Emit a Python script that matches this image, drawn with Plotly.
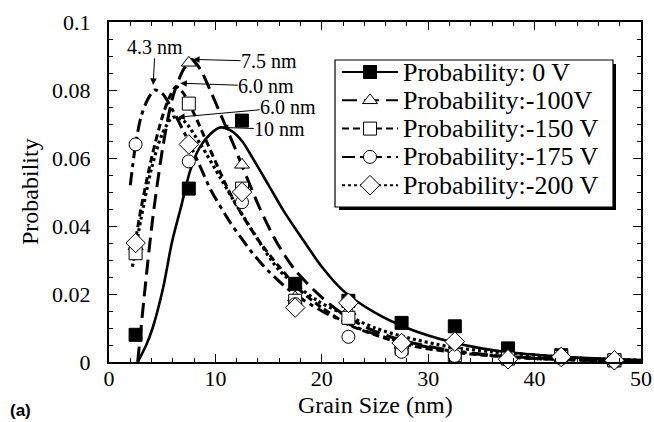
import plotly.graph_objects as go

# ---------------- data ----------------
grain_x = [2.5, 7.5, 12.5, 17.5, 22.5, 27.5, 32.5, 37.5, 42.5, 47.5]

p_0v   = [0.008, 0.051, 0.071, 0.023, 0.018, 0.0115, 0.0105, 0.004, 0.002, 0.0005]
p_100v = [0.034, 0.088, 0.058, 0.019, 0.015, 0.005, 0.004, 0.001, 0.0015, 0.0003]
p_150v = [0.032, 0.076, 0.051, 0.018, 0.013, 0.004, 0.002, 0.001, 0.0015, 0.0005]
p_175v = [0.064, 0.059, 0.047, 0.017, 0.0074, 0.003, 0.0018, 0.0005, 0.001, 0.0002]
p_200v = [0.035, 0.064, 0.050, 0.016, 0.0174, 0.0056, 0.006, 0.0008, 0.0015, 0.0005]

fit_0v_x = [2.7, 3.5, 4.1, 5.1, 5.9, 6.8, 7.6, 8.5, 9.5, 10.5, 11.5, 12.5, 13.5, 15, 16.5, 18, 20, 22, 25, 28, 32, 35, 38, 44, 50]
fit_0v_y = [0.0, 0.005, 0.010, 0.022, 0.035, 0.046, 0.056, 0.063, 0.067, 0.069, 0.068, 0.065, 0.060, 0.052, 0.044, 0.037, 0.028, 0.021, 0.0145, 0.010, 0.006, 0.004, 0.0027, 0.0013, 0.0006]

fit_100v_x = [2.7, 3.3, 4.1, 5.1, 6.0, 7.0, 7.8, 8.6, 9.5, 10.6, 11.7, 12.6, 14.2, 15.8, 17.5, 20, 22.5, 25, 28, 32, 36, 40, 45, 50]
fit_100v_y = [0.0, 0.019, 0.042, 0.064, 0.078, 0.086, 0.089, 0.086, 0.080, 0.072, 0.064, 0.057, 0.045, 0.035, 0.027, 0.019, 0.013, 0.009, 0.006, 0.0035, 0.002, 0.0012, 0.0006, 0.0003]

fit_150v_x = [2.2, 3.0, 4.0, 5.0, 5.7, 6.3, 7.0, 8.0, 9.0, 10.0, 11.0, 12.0, 14.0, 16.0, 18.0, 20.0, 22.5, 25, 28, 32, 36, 40, 45, 50]
fit_150v_y = [0.030, 0.045, 0.060, 0.072, 0.078, 0.081, 0.079, 0.073, 0.066, 0.059, 0.052, 0.046, 0.036, 0.028, 0.021, 0.016, 0.011, 0.008, 0.005, 0.003, 0.0018, 0.001, 0.0005, 0.0002]

fit_175v_x = [2.0, 2.5, 3.0, 3.6, 4.3, 5.0, 6.0, 7.3, 8.5, 9.5, 11.4, 12.3, 13.5, 14.9, 17, 20, 23.4, 25, 27.4, 31, 35, 40, 45, 50]
fit_175v_y = [0.052, 0.064, 0.072, 0.077, 0.080, 0.079, 0.074, 0.066, 0.058, 0.051, 0.041, 0.037, 0.032, 0.027, 0.021, 0.015, 0.0100, 0.0082, 0.006, 0.0038, 0.0022, 0.0010, 0.0005, 0.0002]

fit_200v_x = [2.2, 3.0, 4.0, 5.0, 6.0, 7.0, 8.6, 10.5, 12.0, 13.6, 16.0, 19.6, 22.5, 25, 28, 32, 36, 40, 45, 50]
fit_200v_y = [0.028, 0.042, 0.057, 0.067, 0.072, 0.071, 0.064, 0.054, 0.046, 0.038, 0.027, 0.018, 0.0135, 0.0100, 0.0072, 0.0045, 0.003, 0.002, 0.001, 0.0005]

series_names = ["Probability: 0 V", "Probability:-100V", "Probability:-150 V",
                "Probability:-175 V", "Probability:-200 V"]

peak_labels = ["4.3 nm", "7.5 nm", "6.0 nm", "6.0 nm", "10 nm"]
peak_x = [4.15, 7.9, 6.7, 6.5, 10.6]
peak_y = [0.0815, 0.0890, 0.0820, 0.0720, 0.0690]

x_tick_vals = [0, 10, 20, 30, 40, 50]
y_tick_vals = [0, 0.02, 0.04, 0.06, 0.08, 0.1]
y_tick_text = ["0", "0.02", "0.04", "0.06", "0.08", "0.1"]

x_title = "Grain Size (nm)"
y_title = "Probability"
panel_tag = "<b>(a)</b>"

# ---------------- styles ----------------
SERIF = "Liberation Serif"
W, H = 654, 422
ML, MR, MT, MB = 109, 13, 22, 60

styles = [
    dict(dash="solid", symbol="square", fill="black", width=2.6),
    dict(dash="15px,7px", symbol="triangle-up", fill="white", width=3),
    dict(dash="7px,4px", symbol="square", fill="white", width=3),
    dict(dash="13px,5px,4px,5px", symbol="circle", fill="white", width=3),
    dict(dash="3px,3px", symbol="diamond", fill="white", width=3.2),
]

fits = [(fit_0v_x, fit_0v_y), (fit_100v_x, fit_100v_y), (fit_150v_x, fit_150v_y),
        (fit_175v_x, fit_175v_y), (fit_200v_x, fit_200v_y)]
points = [p_0v, p_100v, p_150v, p_175v, p_200v]


def msize(sym):
    return 15 if sym == "diamond" else 13


fig = go.Figure()

for (fx, fy), st in zip(fits, styles):
    fig.add_trace(go.Scatter(x=fx, y=fy, mode="lines",
                             line=dict(color="black", width=st["width"], dash=st["dash"],
                                       shape="spline", smoothing=0.8),
                             showlegend=False, hoverinfo="skip"))

for pts, st, name in zip(points, styles, series_names):
    fig.add_trace(go.Scatter(x=grain_x, y=pts, mode="markers", name=name,
                             marker=dict(symbol=st["symbol"], size=msize(st["symbol"]),
                                         color=st["fill"], line=dict(color="black", width=1)),
                             showlegend=False, cliponaxis=False))

# ---------------- hand-made legend (pixel based overlay axes) ----------------
LEG_X0, LEG_X1, LEG_Y0, LEG_Y1 = 335, 613, 60, 207
ROW0, ROW_STEP = 72, 28.3
SAMPLE_X0, SAMPLE_X1, TEXT_X = 342, 398, 401

for i, (st, name) in enumerate(zip(styles, series_names)):
    ry = ROW0 + i * ROW_STEP
    fig.add_trace(go.Scatter(x=[SAMPLE_X0, SAMPLE_X1], y=[ry, ry], mode="lines",
                             line=dict(color="black", width=2, dash=st["dash"]),
                             xaxis="x2", yaxis="y2", showlegend=False, hoverinfo="skip"))
    fig.add_trace(go.Scatter(x=[(SAMPLE_X0 + SAMPLE_X1) / 2], y=[ry], mode="markers",
                             marker=dict(symbol=st["symbol"], size=msize(st["symbol"]),
                                         color=st["fill"], line=dict(color="black", width=1)),
                             xaxis="x2", yaxis="y2", showlegend=False, hoverinfo="skip"))


def px2paper(px, py):
    return (px - ML) / (W - ML - MR), (H - MB - py) / (H - MT - MB)


annotations = []
for i, name in enumerate(series_names):
    ry = ROW0 + i * ROW_STEP
    ax_, ay_ = px2paper(TEXT_X, ry)
    annotations.append(dict(x=ax_, y=ay_, xref="paper", yref="paper", text=name,
                            showarrow=False, xanchor="left", yanchor="middle",
                            font=dict(family=SERIF, size=26, color="black")))

# peak labels with arrows (offsets of label centres from arrow tips, pixels)
label_offsets = [(2, -38), (76, 2), (86, 3), (110, -10), (58, 2)]
for lab, xx, yy, (ox, oy) in zip(peak_labels, peak_x, peak_y, label_offsets):
    annotations.append(dict(x=xx, y=yy, xref="x", yref="y", text=lab,
                            showarrow=True, ax=ox, ay=oy, arrowhead=2, arrowsize=1.3,
                            arrowwidth=1, arrowcolor="black", borderpad=0,
                            font=dict(family=SERIF, size=20, color="black")))

# axis titles and panel tag placed by pixel position
tx, ty = px2paper(375, 405)
annotations.append(dict(x=tx, y=ty, xref="paper", yref="paper", text=x_title, showarrow=False,
                        xanchor="center", yanchor="middle", font=dict(family=SERIF, size=24, color="black")))
tx, ty = px2paper(30, 192)
annotations.append(dict(x=tx, y=ty, xref="paper", yref="paper", text=y_title, showarrow=False,
                        textangle=-90, xanchor="center", yanchor="middle",
                        font=dict(family=SERIF, size=24, color="black")))
tx, ty = px2paper(8, 410)
annotations.append(dict(x=tx, y=ty, xref="paper", yref="paper", text=panel_tag, showarrow=False,
                        xanchor="left", yanchor="middle",
                        font=dict(family="Liberation Sans", size=17, color="black")))

lx0, ly0 = px2paper(LEG_X0, LEG_Y1)
lx1, ly1 = px2paper(LEG_X1, LEG_Y0)
sx0, sy0 = px2paper(LEG_X0 + 4, LEG_Y1 + 3)
sx1, sy1 = px2paper(LEG_X1 + 3, LEG_Y0 + 4)
shapes = [
    dict(type="rect", xref="paper", yref="paper", x0=sx0, y0=sy0, x1=sx1, y1=sy1,
         fillcolor="black", line=dict(width=0), layer="below"),
    dict(type="rect", xref="paper", yref="paper", x0=lx0, y0=ly0, x1=lx1, y1=ly1,
         fillcolor="white", line=dict(color="black", width=1.2), layer="below"),
]

axis_font = dict(family=SERIF, size=22, color="black")
fig.update_layout(
    width=W, height=H,
    margin=dict(l=ML, r=MR, t=MT, b=MB, autoexpand=False),
    paper_bgcolor="white", plot_bgcolor="white",
    font=dict(family=SERIF, color="black"),
    xaxis=dict(range=[0, 50], tickvals=x_tick_vals, showgrid=False, zeroline=False,
               showline=True, linecolor="black", linewidth=2, mirror="allticks",
               ticks="inside", ticklen=8, tickwidth=1, tickcolor="black",
               minor=dict(dtick=2, ticks="inside", ticklen=4, tickcolor="black", showgrid=False),
               tickfont=axis_font, ticklabelstandoff=-4),
    yaxis=dict(range=[0, 0.1], tickvals=y_tick_vals, ticktext=y_tick_text, showgrid=False,
               zeroline=False, showline=True, linecolor="black", linewidth=2, mirror="allticks",
               ticks="inside", ticklen=8, tickwidth=1, tickcolor="black",
               minor=dict(dtick=0.005, ticks="inside", ticklen=4, tickcolor="black", showgrid=False),
               tickfont=axis_font, ticklabelstandoff=12),
    xaxis2=dict(range=[ML, W - MR], overlaying="x", anchor="y2", visible=False, fixedrange=True),
    yaxis2=dict(range=[H - MB, MT], overlaying="y", anchor="x2", visible=False, fixedrange=True),
    annotations=annotations,
    shapes=shapes,
    showlegend=False,
)

fig.write_html("out.html")
